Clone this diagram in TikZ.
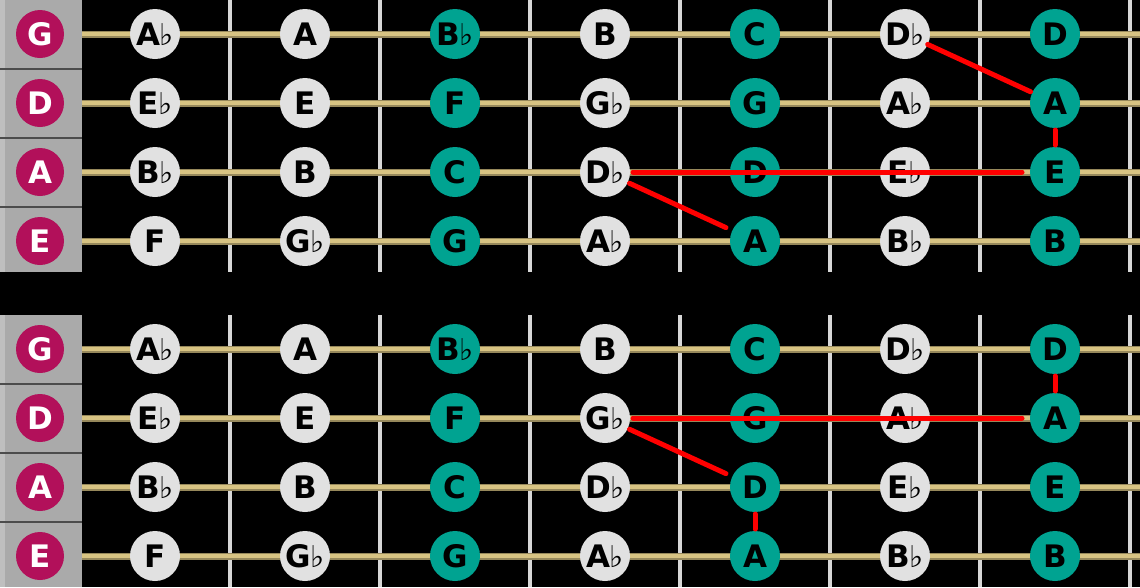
\documentclass[tikz,border=0pt]{standalone}
\usepackage{fontspec}
\setmainfont{DejaVu Sans}
\definecolor{teal1}{RGB}{0,163,145}
\definecolor{mag}{RGB}{178,16,90}
\definecolor{notegray}{RGB}{225,225,225}
\definecolor{gold}{RGB}{215,195,130}
\definecolor{nutgray}{RGB}{170,170,170}
\definecolor{fretc}{RGB}{215,215,215}
\tikzset{
 note/.style={circle,minimum size=50pt,inner sep=0pt,font=\bfseries\fontsize{31}{31}\selectfont,text=black},
 wnote/.style={note,fill=notegray},
 tnote/.style={note,fill=teal1},
 openstr/.style={circle,minimum size=48pt,inner sep=0pt,fill=mag,text=white,font=\bfseries\fontsize{31}{31}\selectfont},
 redl/.style={draw=red,line width=5pt,line cap=round}
}
\newcommand{\fl}{\kern-1pt{\mdseries\fontsize{30}{30}\selectfont♭}}
\begin{document}
\begin{tikzpicture}[x=1pt,y=-1pt]
\fill[black] (0,0) rectangle (1140,587);
\useasboundingbox (0,0) rectangle (1140,587);
\foreach \bd/\yo in {t/0,b/315}{
  \fill[nutgray] (0,\yo) rectangle (82,\yo+272);
  \fill[gray!50] (0,\yo) rectangle (5,\yo+272);
  \foreach \d in {69,138,207} \draw[black!70,line width=1.5pt] (0,\yo+\d) -- (82,\yo+\d);
  \foreach \fx in {230,380,530,680,830,980,1130}
    \draw[fretc,line width=4pt] (\fx,\yo) -- (\fx,\yo+272);
  \foreach \r/\s in {0/G,1/D,2/A,3/E}{
    \pgfmathsetmacro{\sy}{\yo+34+69*\r}
    \draw[gold!70!black,line width=7pt] (82,\sy) -- (1140,\sy);
    \draw[gold,line width=4pt] (82,\sy) -- (1140,\sy);
    \node[openstr] (\bd-\s) at (40,\sy) {\s};
  }
}
\foreach \bd/\yo in {t/0,b/315}{
  \foreach \r/\names in {0/{A\fl,A,B\fl,B,C,D\fl,D},1/{E\fl,E,F,G\fl,G,A\fl,A},2/{B\fl,B,C,D\fl,D,E\fl,E},3/{F,G\fl,G,A\fl,A,B\fl,B}}{
    \foreach \n [count=\c] in \names {
      \pgfmathsetmacro{\sy}{\yo+34+69*\r}
      \pgfmathsetmacro{\sx}{5+150*\c}
      \ifnum\c=3 \def\st{tnote}\else\ifnum\c=5 \def\st{tnote}\else\ifnum\c=7 \def\st{tnote}\else\def\st{wnote}\fi\fi\fi
      \node[\st] (\bd-\r-\c) at (\sx,\sy) {\n};
    }
  }
}
% top red lines
\draw[redl,shorten <=28pt,shorten >=33pt] (t-2-4.center) -- (t-2-7.center);
\draw[redl,shorten <=27pt,shorten >=32pt] (t-2-4.center) -- (t-3-5.center);
\draw[redl,shorten <=25pt,shorten >=27pt] (t-0-6.center) -- (t-1-7.center);
\draw[redl,shorten <=27pt,shorten >=27pt] (t-1-7.center) -- (t-2-7.center);
% bottom red lines
\draw[redl,shorten <=28pt,shorten >=33pt] (b-1-4.center) -- (b-1-7.center);
\draw[redl,shorten <=27pt,shorten >=32pt] (b-1-4.center) -- (b-2-5.center);
\draw[redl,shorten <=27pt,shorten >=27pt] (b-2-5.center) -- (b-3-5.center);
\draw[redl,shorten <=27pt,shorten >=27pt] (b-0-7.center) -- (b-1-7.center);
\end{tikzpicture}
\end{document}
